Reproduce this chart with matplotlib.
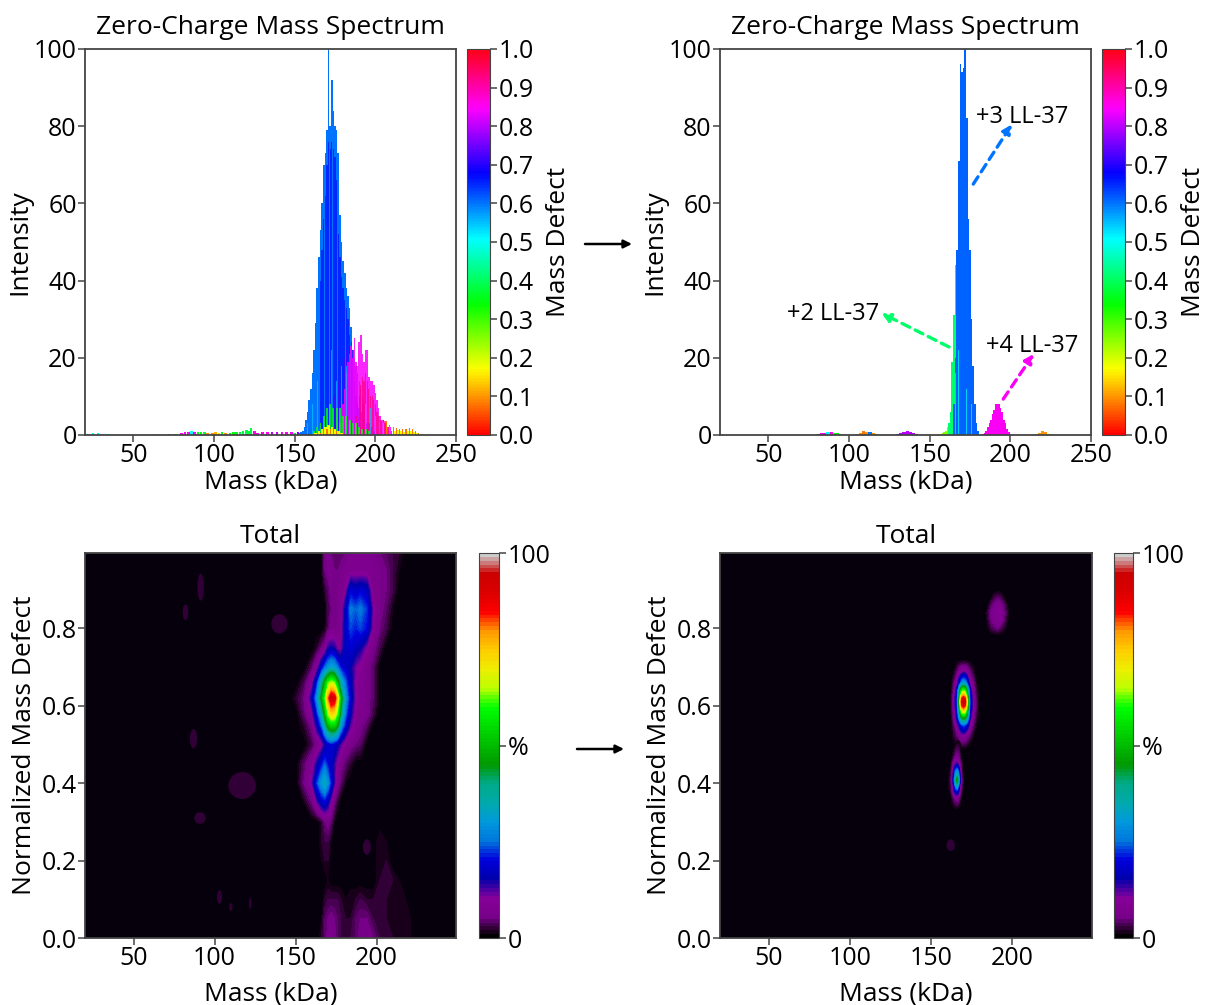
import numpy as np
import matplotlib
matplotlib.use('Agg')
import matplotlib.pyplot as plt
from matplotlib.cm import ScalarMappable
from matplotlib.colors import Normalize
from matplotlib.patches import Ellipse, FancyArrowPatch

plt.rcParams['font.family'] = ['Open Sans', 'DejaVu Sans']

# ---- top left spectrum ----
left_blue_mass = list(range(153, 201))
left_blue = [.5, .8, 1, 2, 4, 6, 9, 12, 16, 22, 29, 38, 46, 53, 60, 70, 73, 79, 100, 80, 92, 84, 80, 79, 73, 57, 50, 45,
             42, 38, 36, 33, 28, 22, 14, 10, 8, 7, 6, 5, 4, 4, 3, 3, 2, 2, 1, 1]
left_deep_mass = list(range(166, 186))
left_deep = [40, 48, 56, 62, 70, 76, 74, 76, 74, 72, 66, 52, 46, 41, 38, 35, 33, 30, 26, 20]
left_violet_mass = list(range(174, 194))
left_violet = [8, 10, 12, 14, 16, 18, 20, 20, 22, 22, 24, 24, 22, 20, 18, 16, 14, 12, 10, 8]
left_mag_mass = list(range(178, 211))
left_mag = [3, 5, 8, 12, 16, 19, 21, 23, 20, 25, 19, 18, 24, 26, 21, 19, 22, 22, 15, 14, 14, 13, 11, 9, 7, 5, 4, 4, 3, 3,
            2, 2, 1]
left_rose_mass = [188, 189, 190, 191, 192, 193, 194, 195, 196, 197, 198, 199, 200, 201, 202, 203, 204, 205, 206, 207, 208]
left_rose = [5, 8, 10, 13, 15, 14, 16, 14, 12, 10, 10, 9, 8, 6, 5, 4, 3.5, 4, 3.5, 3, 2]
left_teeth_mass = [158, 161, 164, 167, 170, 173, 176, 179, 182, 185, 188, 191, 194, 197, 200]
left_teeth = [3, 8, 14, 25, 32, 22, 14, 18, 18, 14, 10, 10, 8, 7, 5]
left_green_mass = list(range(162, 198, 2))
left_green = [1, 2, 3, 5, 7, 8, 7, 7, 7, 5, 5, 4, 3, 3, 2, 1.5, 1.5, 1]
left_orange_mass = [166, 168, 170, 172, 174, 176, 205, 207, 209, 211, 213, 215, 217, 219, 221, 223, 225, 227, 229]
left_orange = [.5, 1, 1.5, 1.5, 1, 1, 3, 3.5, 2.5, 2, 1.8, 1.5, 1.5, 1.5, 1.8, 1.5, 1, .6, .3]
left_yellow_mass = [163, 165, 167, 169, 171, 173, 175, 177, 179, 212, 214, 216, 218, 220, 222, 224, 226]
left_yellow = [.5, 1, 1.5, 2, 2.5, 2, 1.5, 1, .5, 1, 1.2, 1, .8, 1, 1, .7, .4]

# low level signal, each point with its own mass defect
low_mass = [22, 25, 28, 31, 34, 60, 66, 72, 76, 80, 82, 84, 86, 88, 90, 92, 94, 96, 99, 101, 103, 105, 107, 110, 112, 114,
            116, 118, 120, 122, 123, 125, 127, 130, 133, 136, 139, 142, 145, 148, 150, 152]
low_int = [.2, .4, .4, .3, .2, .1, .2, .3, .3, .6, .7, .8, 1.0, .9, .8, .8, .9, .6, .5, .7, .6, .7, .4, .5, .7, .8, .9, 1.1,
           1.4, 1.1, 1.8, 1.0, .6, .7, .7, .9, .9, .9, .8, .7, .6, .7]
low_def = [.5, .5, .5, .5, .5, .1, .2, .3, .3, .85, .85, .85, .5, .85, .35, .35, .38, .1, .1, .12, .15, .35, .1, .35, .35, .35,
           .38, .38, .38, .38, .38, .85, .85, .85, .85, .8, .8, .85, .85, .85, .38, .75]

# ---- top right spectrum ----
right_blue_mass = [165, 166, 167, 168, 169, 170, 171, 172, 173, 174, 175, 176, 177, 178, 179, 180]
right_blue = [8, 20, 48, 71, 96, 94, 95, 100, 82, 56, 48, 30, 18, 8, 3, 1]
right_green_mass = [162, 163, 164, 165, 166, 167]
right_green = [3, 6, 19, 31, 44, 47]
right_lime_mass = [156, 157, 158, 159, 160, 161]
right_lime = [.1, .2, .4, .7, 1, 2]
right_teeth_mass = [166, 168, 170, 173, 176]
right_teeth = [16, 22, 12, 12, 8]
right_mag_mass = list(range(183, 201))
right_mag = [.2, .5, 1, 2, 3, 4, 5.5, 6.5, 8, 8, 8, 7, 6, 4, 3, 1.5, .7, .2]
right_low_mass = [81, 83, 85, 87, 89, 91, 93, 95, 105, 107, 109, 111, 113, 115, 117, 130, 132, 134, 136, 138, 140, 142,
                  216, 218, 220, 222, 224]
right_low_int = [.2, .5, .6, .7, .7, .6, .5, .2, .3, .6, 1.0, .7, .8, .5, .2, .3, .6, .9, 1.0, .8, .5, .2, .3, .6, 1.0, .8, .3]
right_low_def = [.85, .85, .85, .5, .85, .35, .35, .35, .1, .1, .08, .1, .6, .1, .1, .8, .8, .8, .8, .8, .8, .8, .1, .1,
                 .1, .1, .1]

# ---- bottom left heat map ----
hl_mass = [150, 155, 160, 163, 166, 168, 170, 172, 174, 176, 178, 181, 184, 187, 190, 194, 198, 202, 206, 210, 214, 218]
hl_defect = [0, .05, .10, .15, .20, .25, .30, .35, .40, .45, .50, .55, .58, .62, .66, .70, .75, .80, .85, .90, .95, .995]
hl_values = [
    [0, 0, 0, 0, 2, 4, 6, 7, 6, 4, 3, 3, 3, 4, 6, 6, 5, 3, 3, 2, 2, 2],
    [0, 0, 0, 0, 1, 4, 5, 6, 5, 4, 3, 2, 2, 4, 5, 5, 3, 3, 2, 2, 2, 2],
    [0, 0, 0, 0, 0, 2, 3, 3, 3, 3, 2, 1, 2, 2, 3, 2, 2, 3, 2, 2, 2, 1],
    [0, 0, 0, 0, 0, 0, 1, 0, 0, 0, 0, 0, 0, 0, 0, 0, 0, 2, 3, 2, 1, 0],
    [0, 0, 0, 0, 1, 2, 2, 0, 0, 0, 0, 0, 0, 0, 0, 0, 0, 2, 2, 0, 0, 0],
    [0, 0, 0, 0, 2, 3, 3, 1, 0, 0, 0, 0, 0, 0, 0, 0, 0, 2, 1, 0, 0, 0],
    [0, 0, 0, 0, 2, 5, 6, 4, 1, 0, 0, 0, 0, 0, 0, 0, 0, 0, 0, 0, 0, 0],
    [0, 1, 5, 11, 17, 19, 15, 9, 5, 2, 0, 0, 0, 0, 0, 0, 0, 0, 0, 0, 0, 0],
    [0, 5, 11, 22, 30, 34, 28, 20, 12, 7, 4, 1, 0, 0, 0, 0, 0, 0, 0, 0, 0, 0],
    [0, 4, 8, 14, 20, 24, 20, 17, 13, 9, 6, 4, 2, 0, 0, 0, 0, 0, 0, 0, 0, 0],
    [0, 0, 3, 6, 9, 14, 18, 20, 18, 15, 12, 8, 6, 5, 4, 0, 0, 0, 0, 0, 0, 0],
    [0, 2, 6, 15, 24, 36, 48, 54, 54, 46, 30, 19, 12, 8, 6, 4, 0, 0, 0, 0, 0, 0],
    [0, 4, 10, 20, 34, 48, 64, 74, 72, 60, 40, 24, 15, 9, 7, 6, 3, 0, 0, 0, 0, 0],
    [2, 5, 15, 28, 46, 60, 80, 93, 90, 72, 48, 28, 18, 10, 8, 6, 4, 0, 0, 0, 0, 0],
    [0, 3, 9, 20, 36, 48, 60, 66, 62, 48, 34, 24, 16, 10, 8, 6, 4, 0, 0, 0, 0, 0],
    [0, 0, 4, 9, 18, 24, 28, 32, 30, 25, 20, 18, 15, 11, 9, 6, 4, 0, 0, 0, 0, 0],
    [0, 0, 0, 2, 5, 7, 14, 15, 14, 10, 10, 18, 19, 17, 15, 10, 6, 3, 0, 0, 0, 0],
    [0, 0, 0, 0, 0, 1, 4, 6, 6, 6, 8, 18, 23, 21, 23, 20, 9, 5, 3, 0, 0, 0],
    [0, 0, 0, 0, 0, 0, 3, 5, 6, 6, 8, 17, 26, 24, 26, 22, 10, 6, 4, 1, 0, 0],
    [0, 0, 0, 0, 0, 2, 4, 6, 6, 6, 7, 10, 19, 17, 19, 17, 7, 6, 5, 3, 0, 0],
    [0, 0, 0, 0, 1, 5, 6, 7, 5, 5, 6, 7, 8, 8, 8, 8, 7, 6, 5, 3, 1, 0],
    [0, 0, 0, 0, 1, 5, 7, 5, 4, 4, 4, 5, 7, 7, 7, 7, 6, 5, 4, 3, 2, 0],
]
# faint spots on the left map: mass, defect, full width, full height
spot_mass = [91.4, 82, 140, 87, 117, 91, 103, 110, 122, 194]
spot_defect = [.907, .842, .812, .515, .394, .31, .106, .08, .09, .235]
spot_w = [4, 3.5, 10, 4.5, 17, 7, 3, 2, 1.5, 5]
spot_h = [.07, .04, .05, .05, .07, .03, .035, .02, .03, .04]

# ---- bottom right heat map, three blobs ----
b1_mass = [162, 164, 166, 167, 168, 169, 170, 171, 172, 173, 174, 176, 178, 180]
b1_defect = [.49, .52, .55, .57, .59, .60, .61, .62, .64, .66, .69, .72]
b1_values = [
    [0, 0, 0, 0, 0, 1, 1, 1, 0, 0, 0, 0, 0, 0],
    [0, 2, 4, 5, 7, 8, 8, 7, 6, 5, 3, 1, 0, 0],
    [0, 4, 10, 14, 18, 22, 24, 22, 18, 14, 8, 4, 1, 0],
    [0, 6, 17, 26, 38, 46, 48, 46, 38, 26, 14, 6, 2, 0],
    [1, 7, 20, 36, 58, 72, 76, 70, 56, 36, 18, 8, 3, 0],
    [1, 8, 22, 40, 68, 84, 88, 82, 64, 40, 20, 8, 3, 0],
    [1, 8, 22, 40, 74, 92, 95, 90, 70, 42, 20, 8, 3, 0],
    [1, 8, 22, 40, 68, 84, 88, 82, 64, 40, 20, 8, 3, 0],
    [0, 6, 18, 32, 48, 58, 62, 56, 44, 30, 16, 7, 2, 0],
    [0, 4, 10, 16, 22, 28, 30, 28, 22, 15, 9, 5, 1, 0],
    [0, 1, 4, 6, 8, 9, 10, 9, 8, 6, 4, 2, 0, 0],
    [0, 0, 0, 0, 0, 0, 0, 0, 0, 0, 0, 0, 0, 0],
]
b2_mass = [160, 162, 163, 164, 165, 166, 167, 168, 169, 170, 172]
b2_defect = [.33, .36, .38, .40, .41, .43, .45, .47, .50, .52]
b2_values = [
    [0, 0, 0, 0, 0, 0, 0, 0, 0, 0, 0],
    [0, 0, 2, 4, 6, 7, 5, 2, 0, 0, 0],
    [0, 2, 6, 13, 18, 20, 14, 6, 2, 0, 0],
    [0, 3, 8, 20, 32, 42, 28, 10, 4, 1, 0],
    [0, 3, 9, 22, 36, 47, 32, 12, 4, 1, 0],
    [0, 2, 7, 17, 26, 30, 22, 9, 3, 0, 0],
    [0, 1, 4, 8, 12, 13, 10, 5, 2, 0, 0],
    [0, 0, 1, 3, 5, 6, 5, 2, 0, 0, 0],
    [0, 0, 0, 0, 1, 2, 2, 1, 0, 0, 0],
    [0, 0, 0, 0, 0, 0, 0, 0, 0, 0, 0],
]
b3_mass = [183, 185, 187, 189, 191, 193, 195, 197, 199]
b3_defect = [.78, .80, .82, .84, .86, .88, .90]
b3_values = [
    [0, 0, 0, 0, 0, 0, 0, 0, 0],
    [0, 1, 3, 4, 5, 3, 2, 0, 0],
    [0, 2, 5, 7, 8, 7, 4, 1, 0],
    [0, 3, 6, 8, 9, 8, 5, 2, 0],
    [0, 1, 4, 6, 8, 6, 4, 1, 0],
    [0, 0, 1, 3, 4, 3, 1, 0, 0],
    [0, 0, 0, 0, 0, 0, 0, 0, 0],
]

W, H = 1207, 1005
TICK_FS = 18
LABEL_FS = 19
rainbow = plt.get_cmap('hsv')
spectral = plt.get_cmap('nipy_spectral', 100)
levels = np.arange(1, 101)
edge = '#444444'

fig = plt.figure(figsize=(W / 100, H / 100), dpi=100)


def px_axes(l, t, r, b):
    return fig.add_axes([l / W, 1 - b / H, (r - l) / W, (b - t) / H])


def style(ax):
    for s in ax.spines.values():
        s.set_color(edge)
        s.set_linewidth(1.3)
    ax.tick_params(labelsize=TICK_FS, length=5, width=1.1, color=edge, pad=1)


def bars(ax, mass, vals, defect, width=1.0, alpha=1.0):
    ax.bar(mass, vals, width=width, color=rainbow(defect), linewidth=0, alpha=alpha)


def spectrum(box, cbox):
    ax = px_axes(*box)
    style(ax)
    ax.set_xlim(20, 250)
    ax.set_ylim(0, 100)
    ax.set_xticks([50, 100, 150, 200, 250])
    ax.set_xlabel('Mass (kDa)', fontsize=LABEL_FS, labelpad=1)
    ax.set_ylabel('Intensity', fontsize=LABEL_FS, labelpad=1)
    ax.set_title('Zero-Charge Mass Spectrum', fontsize=LABEL_FS, pad=11)
    cax = px_axes(*cbox)
    cb = fig.colorbar(ScalarMappable(Normalize(0, 1), rainbow), cax=cax)
    cb.set_ticks(np.arange(0, 1.01, .1))
    cb.ax.tick_params(labelsize=TICK_FS, length=5, width=1.1, color=edge, pad=1)
    cb.outline.set_edgecolor(edge)
    cb.set_label('Mass Defect', fontsize=LABEL_FS, labelpad=9)
    return ax


def heatmap_axes(box, cbox):
    ax = px_axes(*box)
    style(ax)
    ax.set_facecolor('#06000c')
    ax.set_xlim(20, 249)
    ax.set_ylim(0, .995)
    ax.set_xticks([50, 100, 150, 200])
    ax.set_yticks([0, .2, .4, .6, .8])
    ax.set_xlabel('Mass (kDa)', fontsize=LABEL_FS, labelpad=7)
    ax.set_ylabel('Normalized Mass Defect', fontsize=LABEL_FS, labelpad=3)
    ax.set_title('Total', fontsize=LABEL_FS, pad=7)
    cax = px_axes(*cbox)
    cb = fig.colorbar(ScalarMappable(Normalize(0, 100), spectral), cax=cax)
    cb.set_ticks([0, 50, 100])
    cb.set_ticklabels(['0', '%', '100'])
    cb.ax.tick_params(labelsize=TICK_FS, length=5, width=1.1, color=edge, pad=1)
    cb.outline.set_edgecolor(edge)
    return ax


def blob(ax, mass, defect, values):
    ax.contourf(mass, defect, values, levels=levels, cmap=spectral, norm=Normalize(0, 100), extend='neither')


# top left
ax1 = spectrum((85, 49, 456, 435), (467, 49, 490, 435))
bars(ax1, low_mass, low_int, low_def, width=1.6)
bars(ax1, left_blue_mass, left_blue, .6)
bars(ax1, left_deep_mass, left_deep, .65, width=.8)
bars(ax1, left_violet_mass, left_violet, .73, width=.7, alpha=.7)
bars(ax1, left_mag_mass, left_mag, .84, alpha=.85)
bars(ax1, left_rose_mass, left_rose, .93, width=.7, alpha=.7)
bars(ax1, left_teeth_mass, left_teeth, .54, width=.4, alpha=.65)
bars(ax1, left_green_mass, left_green, .34, width=1.2, alpha=.8)
bars(ax1, left_yellow_mass, left_yellow, .18, width=1.6)
bars(ax1, left_orange_mass, left_orange, .08, width=.7)

# top right
ax2 = spectrum((720, 49, 1091, 435), (1102, 49, 1125, 435))
bars(ax2, right_low_mass, right_low_int, right_low_def, width=2)
bars(ax2, right_lime_mass, right_lime, .25)
bars(ax2, right_green_mass, right_green, .41)
bars(ax2, right_blue_mass, right_blue, .61)
bars(ax2, right_teeth_mass, right_teeth, .5, width=.5, alpha=.7)
bars(ax2, right_mag_mass, right_mag, .85)

for label, xy, xytext, tx, ty, d in [('+3 LL-37', (201, 80.5), (177, 65), 179, 80.8, .6),
                                     ('+2 LL-37', (120, 31.6), (162, 22.8), 61.5, 29.8, .41),
                                     ('+4 LL-37', (214.5, 21), (195.6, 9.3), 185, 21.5, .85)]:
    ax2.annotate('', xy=xy, xytext=xytext,
                 arrowprops=dict(arrowstyle='-|>', color=rainbow(d), lw=2.4, linestyle=(0, (2.6, 1.8)),
                                 mutation_scale=13, shrinkA=0, shrinkB=0))
    ax2.text(tx, ty, label, fontsize=17, color='black')

# bottom left
ax3 = heatmap_axes((85, 553, 456, 938), (479, 553, 499, 938))
hl_m = [146] + hl_mass + [224]
hl_z = np.pad(np.array(hl_values, float), ((0, 0), (1, 1)))
blob(ax3, hl_m, hl_defect, hl_z)
for m, d, w, h in zip(spot_mass, spot_defect, spot_w, spot_h):
    ax3.add_patch(Ellipse((m, d), w, h, color=spectral(2), linewidth=0))

# bottom right
ax4 = heatmap_axes((720, 553, 1092, 938), (1114, 553, 1133, 938))
blob(ax4, b1_mass, b1_defect, b1_values)
blob(ax4, b2_mass, b2_defect, b2_values)
blob(ax4, b3_mass, b3_defect, b3_values)
ax4.add_patch(Ellipse((162, .24), 5, .03, color=spectral(2), linewidth=0))

# arrows between the columns
for x0, x1, y in [(585, 632, 244), (577, 624, 749)]:
    fig.add_artist(FancyArrowPatch((x0 / W, 1 - y / H), (x1 / W, 1 - y / H),
                                   transform=fig.transFigure, arrowstyle='-|>', color='black',
                                   lw=1.8, mutation_scale=12, shrinkA=0, shrinkB=0))

fig.savefig('out.png', dpi=100)
